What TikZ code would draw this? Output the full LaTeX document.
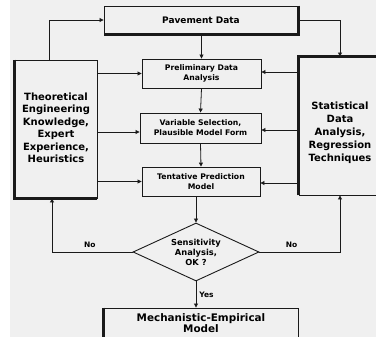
\documentclass[tikz,border=0pt]{standalone}
\usepackage{fontspec}
\setmainfont{DejaVu Sans}
\usetikzlibrary{arrows.meta,shapes.geometric,calc}
\definecolor{bggray}{HTML}{F0F0F0}
\definecolor{ink}{HTML}{1A1A1A}
\begin{document}
\begin{tikzpicture}[x=1pt,y=-1pt,
  box/.style={draw=ink, line width=0.9pt, inner sep=0pt, align=center},
  thickedge/.style={draw=ink, line width=2.2pt},
  conn/.style={draw=ink, line width=0.8pt, -{Triangle[length=4pt,width=4pt]}},
  smalltxt/.style={font=\fontsize{7.7}{10}\selectfont\bfseries},
  bigtxt/.style={font=\fontsize{10}{12.5}\selectfont\bfseries},
  lbl/.style={font=\fontsize{7.5}{9}\selectfont\bfseries, inner sep=0pt}]
\useasboundingbox (0,0) rectangle (376,337);
\fill[bggray] (10,0) rectangle (376,337);

% nodes
\node[box, minimum width=194pt, minimum height=28pt,
      font=\fontsize{9}{11}\selectfont\bfseries] (pav) at (201,20) {Pavement Data};
\node[box, minimum width=82pt, minimum height=138pt] (left) at (56,129) {};
\node[bigtxt, align=center, inner sep=0pt] (lefttxt) at (56,128)
  {Theoretical\\Engineering\\Knowledge,\\Expert\\Experience,\\Heuristics};
\node[box, minimum width=82pt, minimum height=138pt] (right) at (340,126) {};
\node[bigtxt, align=center, inner sep=0pt, font=\fontsize{10}{13}\selectfont\bfseries] (righttxt) at (340,133)
  {Statistical\\Data\\Analysis,\\Regression\\Techniques};
\node[box, smalltxt, minimum width=119pt, minimum height=29pt] (prelim) at (201.5,73.5)
  {Preliminary Data\\Analysis};
\node[box, smalltxt, minimum width=121pt, minimum height=30pt] (var) at (200.5,128)
  {Variable Selection,\\Plausible Model Form};
\node[box, smalltxt, minimum width=118pt, minimum height=29pt] (tent) at (201,181.5)
  {Tentative Prediction\\Model};
\node[draw=ink, line width=0.9pt, diamond, shape aspect=2.17, inner sep=0pt,
      minimum width=126pt, minimum height=58pt, align=center,
      font=\fontsize{8.3}{10}\selectfont\bfseries] (dia) at (196,252)
  {Sensitivity\\Analysis,\\OK ?};
\node[box, minimum width=194pt, minimum height=30pt,
      font=\fontsize{10.4}{11.5}\selectfont\bfseries] (me) at (201,323)
  {Mechanistic-Empirical\\Model};

% heavy edges (shadow effect)
\draw[thickedge] (pav.north east) -- (pav.south east) -- (pav.south west);
\draw[thickedge] (left.north west) -- (left.south west) -- (left.south east);
\draw[thickedge] (right.south west) -- (right.north west) -- (right.north east);
\draw[thickedge] (me.north west) -- (me.south west);

% connectors
\coordinate (lt) at ($(left.north)+(-7,0)$);
\draw[conn] (lt) |- (pav.west);
\draw[conn] (pav.east) -| (right.north);
\draw[conn] (pav.south -| prelim.north) -- (prelim.north);
\draw[conn] (prelim.south) -- (var.north);
\draw[conn] (var.south) -- (tent.north);
\draw[conn] (tent.south -| dia.north) -- (dia.north);
\draw[conn] (dia.south) -- node[lbl, right=3pt, pos=0.5] (yes) {Yes} (me.north -| dia.south);

\coordinate (lb) at ($(left.south)+(-4,0)$);
\draw[conn] (dia.west) -| node[lbl, above=4pt, pos=0.265] (nol) {No} (lb);
\coordinate (rb) at (right.south);
\draw[conn] (dia.east) -| node[lbl, above=4pt, pos=0.2] (nor) {No} (rb);

\draw[conn] (left.east |- prelim.west) -- (prelim.west);
\draw[conn] ($(left.east |- var.west)+(0,4)$) -- ($(var.west)+(0,4)$);
\draw[conn] (left.east |- tent.west) -- (tent.west);
\draw[conn] ($(right.west |- prelim.east)+(0,-1.5)$) -- ($(prelim.east)+(0,-1.5)$);
\draw[conn] ($(right.west |- var.east)+(0,2)$) -- ($(var.east)+(0,2)$);
\draw[conn] ($(right.west |- tent.east)+(0,1.5)$) -- ($(tent.east)+(0,1.5)$);
\end{tikzpicture}
\end{document}
